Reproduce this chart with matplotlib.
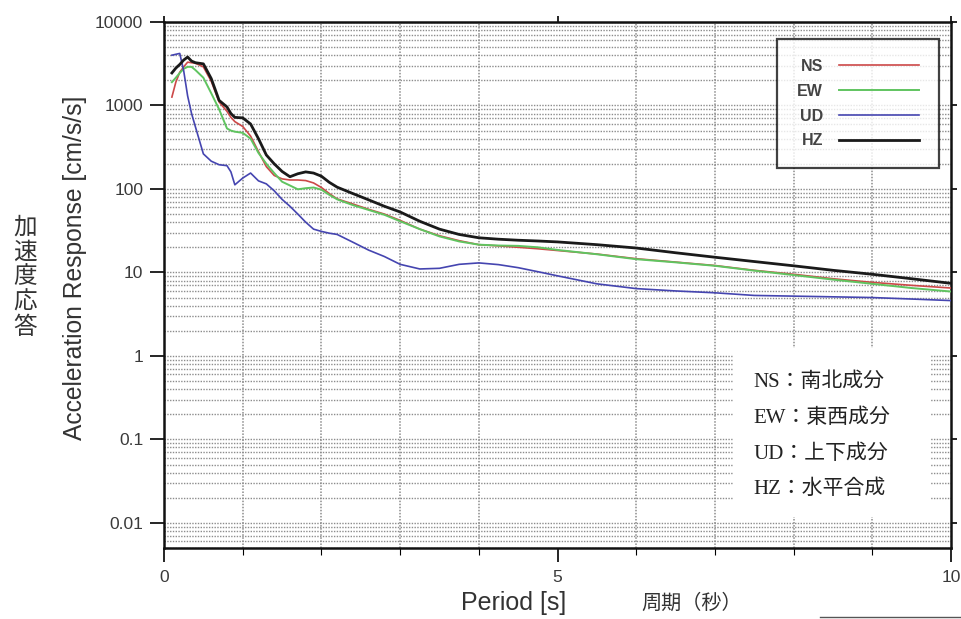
import matplotlib
matplotlib.use("Agg")
import matplotlib.pyplot as plt
import matplotlib.patches as patches
import matplotlib.lines as lines
from matplotlib.ticker import FixedLocator, LogLocator, NullFormatter

plt.rcParams['font.family'] = ['Liberation Sans', 'Noto Sans CJK JP']

# ========================
# Datos
# ========================
period = [0.1, 0.15, 0.2, 0.25, 0.3, 0.35, 0.4, 0.5, 0.6, 0.7, 0.8, 0.85, 0.9,
          1.0, 1.1, 1.2, 1.3, 1.4, 1.5, 1.6, 1.7, 1.8, 1.9, 2.0, 2.1, 2.2,
          2.4, 2.6, 2.8, 3.0, 3.25, 3.5, 3.75, 4.0, 4.25, 4.5, 4.75, 5.0,
          5.5, 6.0, 6.5, 7.0, 7.5, 8.0, 8.5, 9.0, 9.5, 10.0]

ns = [1260, 1900, 2500, 2900, 3300, 3250, 3200, 2900, 1950, 1100, 850, 720, 640,
      560, 430, 280, 185, 145, 132, 128, 128, 126, 118, 104, 88, 76,
      66, 57, 50, 42, 33, 27.5, 24, 21.5, 20.8, 20, 19.2, 18.3,
      16.6, 14.6, 13.3, 12.1, 10.6, 9.5, 8.4, 7.6, 7.0, 6.5]

ew = [1900, 2150, 2450, 2750, 2900, 2900, 2650, 2150, 1400, 900, 530, 500, 485,
      470, 400, 270, 200, 155, 122, 110, 99, 102, 104, 98, 85, 75,
      64, 56, 49, 41, 33, 27, 23.5, 21.5, 21, 20.8, 20, 18.6,
      16.5, 14.4, 13.2, 12.0, 10.5, 9.3, 8.2, 7.3, 6.5, 5.9]

ud = [4000, 4100, 4200, 2600, 1300, 800, 550, 263, 215, 195, 190, 160, 112,
      135, 155, 125, 115, 95, 75, 62, 50, 40, 33, 31, 29.5, 28.5,
      23, 18.5, 15.5, 12.5, 11, 11.2, 12.5, 13, 12.4, 11.4, 10.2, 9.1,
      7.3, 6.4, 6.0, 5.7, 5.3, 5.2, 5.1, 5.0, 4.8, 4.6]

hz = [2450, 2800, 3100, 3500, 3800, 3400, 3250, 3150, 2100, 1150, 960, 800, 720,
      710, 600, 400, 255, 200, 162, 140, 152, 160, 155, 142, 120, 105,
      88, 74, 62, 53, 41, 33, 28.5, 26, 25, 24.3, 23.8, 23.2,
      21.5, 19.6, 17.2, 15.2, 13.5, 12, 10.6, 9.5, 8.4, 7.4]

y_ticks = [0.01, 0.1, 1, 10, 100, 1000, 10000]
y_tick_labels = ['0.01', '0.1', '1', '10', '100', '1000', '10000']
x_ticks = [0, 5, 10]

notes = ['NS：南北成分', 'EW：東西成分', 'UD：上下成分', 'HZ：水平合成']

# ========================
# Figura
# ========================
fig = plt.figure(figsize=(9.62, 6.19), dpi=100)
ax = fig.add_axes([0.1705, 0.1147, 0.8181, 0.8498])

ax.set_yscale('log')
ax.set_xlim(0, 10)
ax.set_ylim(0.005, 10000)

ax.plot(period, ns, color='#cc4848', lw=1.2, label='NS', zorder=3)
ax.plot(period, ew, color='#60c460', lw=1.4, label='EW', zorder=3)
ax.plot(period, ud, color='#4545b0', lw=1.2, label='UD', zorder=3)
ax.plot(period, hz, color='#1a1a1a', lw=2.0, label='HZ', zorder=4)

# rejilla
ax.set_yticks(y_ticks)
ax.set_yticklabels(y_tick_labels)
ax.yaxis.set_minor_locator(LogLocator(base=10, subs=range(2, 10), numticks=20))
ax.yaxis.set_minor_formatter(NullFormatter())
ax.set_xticks(x_ticks)
ax.xaxis.set_minor_locator(FixedLocator(range(0, 11)))
ax.grid(True, which='both', axis='y', color='#8c8c8c', lw=1.0, ls=(0, (1, 1)))
ax.grid(True, which='minor', axis='x', color='#8c8c8c', lw=1.1, ls=(0, (1, 1)))
ax.set_axisbelow(True)

ax.tick_params(axis='both', which='major', direction='out', length=10, width=1.2,
               labelsize=12.5, labelcolor='#3a3a3a', right=True, top=True)
ax.tick_params(axis='y', which='minor', length=0)
ax.tick_params(axis='x', which='minor', direction='out', length=5, width=0.8)
ax.tick_params(axis='x', which='major', pad=6)
ax.tick_params(axis='y', which='major', pad=5)
for t in ax.yaxis.get_major_ticks():
    t.tick2line.set_markersize(4)
for t in ax.xaxis.get_major_ticks():
    t.tick2line.set_markersize(4)

for s in ax.spines.values():
    s.set_linewidth(1.8)
    s.set_color('#111111')

# leyenda
leg = ax.legend(loc='upper left', bbox_to_anchor=(0.779, 0.968), markerfirst=False,
                frameon=True, fancybox=False, handlelength=5.0, handletextpad=1.0,
                labelspacing=0.62, borderpad=1.25, borderaxespad=0,
                prop={'family': 'Liberation Sans', 'weight': 'bold', 'size': 11.5})
leg.get_frame().set_edgecolor('#111111')
leg.get_frame().set_linewidth(1.6)
for t in leg.get_texts():
    t.set_color('#444444')

# recuadro de notas
box = patches.Rectangle((0.723, 0.059), 0.25, 0.321, transform=ax.transAxes,
                        facecolor='white', edgecolor='none', zorder=2)
ax.add_patch(box)
for i, txt in enumerate(notes):
    ax.text(0.749, 0.315 - i * 0.068, txt, transform=ax.transAxes, fontsize=15,
            family=['Liberation Serif', 'Noto Sans CJK JP'], color='#222222',
            va='center', ha='left', zorder=5)

# etiquetas
fig.text(75 / 962, 1 - 268 / 619, 'Acceleration Response [cm/s/s]', fontsize=17.7,
         color='#333333', rotation=90, ha='center', va='center')
fig.text(514 / 962, 1 - 603 / 619, 'Period [s]', fontsize=18, color='#333333',
         ha='center', va='center')
fig.text(692 / 962, 1 - 603 / 619, '周期（秒）', fontsize=14.5, color='#333333',
         ha='center', va='center', family=['Noto Sans CJK JP'])
fig.text(25 / 962, 1 - 277 / 619, '\n'.join('加速度応答'), fontsize=17, color='#333333',
         ha='center', va='center', linespacing=1.12, family=['Noto Sans CJK JP'])

fig.add_artist(lines.Line2D([0.852, 1.0], [0.004, 0.004], color='#555555', lw=1.0,
                            transform=fig.transFigure))

fig.savefig('out.png', dpi=100)
